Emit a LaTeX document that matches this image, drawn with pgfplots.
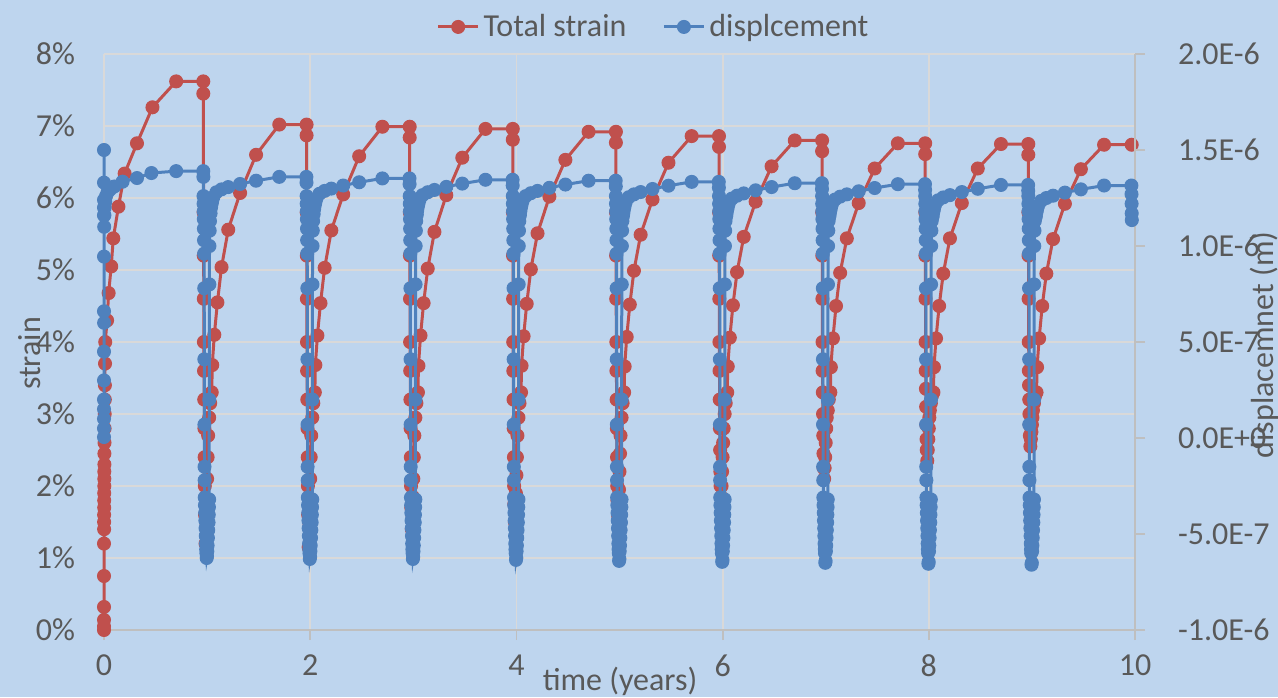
\documentclass[border=0pt]{standalone}
\usepackage{pgfplots}
\pgfplotsset{compat=1.18}
\usepackage{fontspec}
\setmainfont{Carlito}
\definecolor{bgc}{RGB}{190,213,238}
\definecolor{redc}{RGB}{192,80,77}
\definecolor{bluec}{RGB}{79,129,189}
\definecolor{gridc}{RGB}{217,217,217}
\definecolor{axisc}{RGB}{191,191,191}
\definecolor{textc}{RGB}{89,89,89}
\newcommand{\chartfont}{\fontsize{16}{19}\selectfont}
\pgfplotsset{
  base/.style={
    at={(52pt,33.5pt)}, anchor=south west, scale only axis,
    width=515.5pt, height=288pt, xmin=0, xmax=10, clip=false,
    tick label style={font=\chartfont, text=textc},
    label style={font=\chartfont, text=textc},
    /pgf/number format/assume math mode=true,
    major tick length=5pt, tick align=outside,
  },
  redline/.style={draw=redc, line width=1.5pt, mark=*, mark size=3.2pt,
    mark options={solid, fill=redc, draw=redc, line width=0.6pt}},
  blueline/.style={draw=bluec, line width=1.5pt, mark=*, mark size=3.2pt,
    mark options={solid, fill=bluec, draw=bluec, line width=0.6pt}},
}
\begin{document}
\begin{tikzpicture}
\fill[bgc] (0,0) rectangle (639pt,348.5pt);
\begin{axis}[base, ymin=0, ymax=8,
  axis x line*=bottom, axis y line*=left,
  x axis line style={draw=axisc, line width=0.9pt, -},
  y axis line style={draw=gridc, line width=0.9pt, -},
  xtick={0,2,4,6,8,10}, ytick={0,1,2,3,4,5,6,7,8},
  yticklabels={0\%,1\%,2\%,3\%,4\%,5\%,6\%,7\%,8\%},
  xtick style={draw=axisc, line width=0.9pt},
  ytick style={draw=none},
  yticklabel style={xshift=-6pt},
  xticklabel style={yshift=-4pt},
  grid=major, major grid style={draw=gridc, line width=0.9pt},
  xlabel={time (years)}, ylabel={strain},
  xlabel style={at={(axis description cs:0.5005,-0.0885)}, anchor=center},
  ylabel style={at={(axis description cs:-0.0718,0.48)}, anchor=center},
]
\addplot[redline] table {
0 0
0 0.05
0 0.14
0 0.32
0 0.75
0 1.2
0.001 1.4
0.001 1.5
0.001 1.6
0.002 1.7
0.002 1.8
0.002 1.9
0.003 2.0
0.003 2.1
0.003 2.2
0.004 2.3
0.004 2.45
0.005 2.6
0.006 2.8
0.007 3.0
0.008 3.2
0.009 3.4
0.010 3.7
0.012 4.0
0.030 4.3
0.045 4.68
0.07 5.05
0.09 5.44
0.14 5.88
0.2 6.34
0.32 6.76
0.47 7.26
0.70 7.62
0.963 7.62
0.963 7.45
0.966 5.8
0.967 5.2
0.968 4.6
0.969 4.0
0.970 3.6
0.972 3.2
0.974 2.8
0.976 2.4
0.978 2.0
0.980 1.6
0.985 1.2
0.990 1.5
0.995 1.8
1.000 2.1
1.005 2.4
1.010 2.7
1.020 2.95
1.030 3.15
1.045 3.3
1.050 3.68
1.070 4.1
1.100 4.55
1.140 5.04
1.205 5.56
1.320 6.07
1.475 6.6
1.700 7.02
1.965 7.02
1.965 6.87
1.966 5.8
1.967 5.2
1.968 4.6
1.969 4.0
1.970 3.6
1.972 3.2
1.974 2.8
1.976 2.4
1.978 2.0
1.980 1.6
1.985 1.15
1.990 1.5
1.995 1.8
2.000 2.1
2.005 2.4
2.010 2.7
2.020 2.95
2.030 3.15
2.045 3.3
2.050 3.68
2.070 4.09
2.100 4.54
2.140 5.03
2.205 5.55
2.320 6.05
2.475 6.58
2.700 6.99
2.965 6.99
2.965 6.84
2.966 5.8
2.967 5.2
2.968 4.6
2.969 4.0
2.970 3.6
2.972 3.2
2.974 2.8
2.976 2.4
2.978 2.0
2.980 1.7
2.985 1.4
2.990 1.6
2.995 1.85
3.000 2.1
3.005 2.4
3.010 2.7
3.020 2.95
3.030 3.15
3.045 3.3
3.050 3.67
3.070 4.09
3.100 4.54
3.140 5.02
3.205 5.53
3.320 6.04
3.475 6.56
3.700 6.96
3.965 6.96
3.965 6.81
3.966 5.8
3.967 5.2
3.968 4.6
3.969 4.0
3.970 3.6
3.972 3.2
3.974 2.8
3.976 2.4
3.978 2.0
3.980 1.75
3.985 1.5
3.990 1.7
3.995 1.9
4.000 2.15
4.005 2.4
4.010 2.7
4.020 2.95
4.030 3.15
4.045 3.3
4.050 3.67
4.070 4.08
4.100 4.53
4.140 5.01
4.205 5.51
4.320 6.02
4.475 6.53
4.700 6.92
4.965 6.92
4.965 6.77
4.966 5.8
4.967 5.2
4.968 4.6
4.969 4.0
4.970 3.6
4.972 3.2
4.974 2.8
4.976 2.4
4.978 2.0
4.980 1.8
4.985 1.6
4.990 1.75
4.995 1.95
5.000 2.2
5.005 2.45
5.010 2.7
5.020 2.95
5.030 3.15
5.045 3.3
5.050 3.66
5.070 4.07
5.100 4.52
5.140 4.99
5.205 5.49
5.320 5.98
5.475 6.49
5.700 6.86
5.965 6.86
5.965 6.71
5.966 5.8
5.967 5.2
5.968 4.6
5.969 4.0
5.970 3.6
5.972 3.2
5.974 2.8
5.976 2.5
5.978 2.2
5.980 2.0
5.985 1.85
5.990 2.0
5.995 2.2
6.000 2.4
6.005 2.6
6.010 2.8
6.020 3.0
6.030 3.15
6.045 3.3
6.050 3.66
6.070 4.06
6.100 4.51
6.140 4.97
6.205 5.46
6.320 5.95
6.475 6.44
6.700 6.80
6.965 6.80
6.965 6.65
6.966 5.8
6.967 5.2
6.968 4.6
6.969 4.0
6.970 3.6
6.972 3.3
6.974 3.0
6.976 2.7
6.978 2.45
6.980 2.25
6.985 2.1
6.990 2.25
6.995 2.4
7.000 2.6
7.005 2.8
7.010 2.95
7.020 3.05
7.030 3.2
7.045 3.3
7.050 3.65
7.070 4.05
7.100 4.50
7.140 4.96
7.205 5.44
7.320 5.93
7.475 6.41
7.700 6.76
7.965 6.76
7.965 6.61
7.966 5.8
7.967 5.2
7.968 4.6
7.969 4.0
7.970 3.6
7.972 3.35
7.974 3.1
7.976 2.85
7.978 2.65
7.980 2.5
7.985 2.35
7.990 2.5
7.995 2.65
8.000 2.8
8.005 2.95
8.010 3.05
8.020 3.15
8.030 3.25
8.045 3.3
8.050 3.65
8.070 4.05
8.100 4.50
8.140 4.95
8.205 5.44
8.320 5.93
8.475 6.41
8.700 6.75
8.965 6.75
8.965 6.60
8.966 5.8
8.967 5.2
8.968 4.6
8.969 4.0
8.970 3.6
8.972 3.4
8.974 3.2
8.976 3.0
8.978 2.85
8.980 2.7
8.985 2.55
8.990 2.65
8.995 2.75
9.000 2.85
9.005 2.95
9.010 3.05
9.020 3.15
9.030 3.25
9.045 3.3
9.050 3.65
9.070 4.05
9.100 4.50
9.140 4.95
9.205 5.43
9.320 5.92
9.475 6.40
9.700 6.74
9.968 6.74
};
\end{axis}
\begin{axis}[base, ymin=-1e-6, ymax=2e-6,
  axis y line*=right, axis x line=none, xtick=\empty,
  scaled y ticks=false,
  y axis line style={draw=axisc, line width=0.9pt, -},
  ytick={-1e-6,-5e-7,0,5e-7,1e-6,1.5e-6,2e-6},
  yticklabels={-1.0E-6,-5.0E-7,0.0E+0,5.0E-7,1.0E-6,1.5E-6,2.0E-6},
  ytick style={draw=axisc, line width=0.9pt},
  yticklabel style={xshift=13pt},
  ylabel={displacemnet (m)},
  ylabel style={at={(axis description cs:1.125,0.495)}, anchor=center},
  legend columns=2,
  legend style={at={(0.534,1.047)}, anchor=center, draw=none, fill=none,
    font=\chartfont, text=textc,
    /tikz/every even column/.append style={column sep=16pt}},
  legend image code/.code={\draw[mark repeat=2,mark phase=2,#1] plot coordinates {(0pt,0pt) (10pt,0pt) (20pt,0pt)};},
  legend entries={Total strain, displcement},
]
\addlegendimage{redline}
\addplot[blueline] table {
0 15.0e-7
0 13.3e-7
0 12.4e-7
0 12.0e-7
0 11.6e-7
0 9.45e-7
0 6.6e-7
0 4.5e-7
0 3.0e-7
0 2.0e-7
0 1.5e-7
0 1.0e-7
0 0.5e-7
0 0.05e-7
0.001 6.0e-7
0.002 11.0e-7
0.004 11.6e-7
0.007 12.0e-7
0.012 12.3e-7
0.020 12.6e-7
0.035 12.8e-7
0.060 12.95e-7
0.100 13.1e-7
0.180 13.35e-7
0.320 13.54e-7
0.460 13.8e-7
0.700 13.9e-7
0.963 13.9e-7
0.964 13.6e-7
0.965 12.6e-7
0.966 12.2e-7
0.967 11.8e-7
0.968 11.4e-7
0.969 10.9e-7
0.970 10.3e-7
0.971 9.6e-7
0.972 7.8e-7
0.973 4.1e-7
0.974 0.7e-7
0.975 -1.5e-7
0.976 -2.2e-7
0.977 -3.1e-7
0.979 -3.5e-7
0.981 -3.9e-7
0.983 -4.3e-7
0.985 -4.7e-7
0.987 -5.1e-7
0.989 -5.5e-7
0.991 -5.8e-7
0.993 -6.0e-7
0.996 -6.25e-7
0.999 -6.15e-7
1.002 -5.9e-7
1.005 -5.6e-7
1.008 -5.2e-7
1.011 -4.8e-7
1.014 -4.4e-7
1.016 -4.0e-7
1.018 -3.6e-7
1.020 -3.2e-7
1.021 2.0e-7
1.022 8.0e-7
1.023 10.0e-7
1.025 10.8e-7
1.028 11.3e-7
1.034 11.7e-7
1.038 12.0e-7
1.044 12.2e-7
1.050 12.35e-7
1.060 12.55e-7
1.090 12.8e-7
1.140 12.95e-7
1.205 13.07e-7
1.320 13.23e-7
1.475 13.4e-7
1.700 13.6e-7
1.963 13.6e-7
1.964 13.3e-7
1.965 12.6e-7
1.966 12.2e-7
1.967 11.8e-7
1.968 11.4e-7
1.969 10.9e-7
1.970 10.3e-7
1.971 9.6e-7
1.972 7.8e-7
1.973 4.1e-7
1.974 0.7e-7
1.975 -1.5e-7
1.976 -2.2e-7
1.977 -3.1e-7
1.979 -3.5e-7
1.981 -3.9e-7
1.983 -4.3e-7
1.985 -4.7e-7
1.987 -5.1e-7
1.989 -5.5e-7
1.991 -5.8e-7
1.993 -6.0e-7
1.996 -6.3e-7
1.999 -6.2e-7
2.002 -5.9e-7
2.005 -5.6e-7
2.008 -5.2e-7
2.011 -4.8e-7
2.014 -4.4e-7
2.016 -4.0e-7
2.018 -3.6e-7
2.020 -3.2e-7
2.021 2.0e-7
2.022 8.0e-7
2.023 10.0e-7
2.025 10.8e-7
2.028 11.3e-7
2.034 11.66e-7
2.038 11.92e-7
2.044 12.12e-7
2.050 12.27e-7
2.060 12.47e-7
2.090 12.72e-7
2.140 12.87e-7
2.205 12.99e-7
2.320 13.15e-7
2.475 13.32e-7
2.700 13.52e-7
2.963 13.52e-7
2.964 13.22e-7
2.965 12.6e-7
2.966 12.2e-7
2.967 11.8e-7
2.968 11.4e-7
2.969 10.9e-7
2.970 10.3e-7
2.971 9.6e-7
2.972 7.8e-7
2.973 4.1e-7
2.974 0.7e-7
2.975 -1.5e-7
2.976 -2.2e-7
2.977 -3.1e-7
2.979 -3.5e-7
2.981 -3.9e-7
2.983 -4.3e-7
2.985 -4.7e-7
2.987 -5.1e-7
2.989 -5.5e-7
2.991 -5.8e-7
2.993 -6.0e-7
2.996 -6.3e-7
2.999 -6.2e-7
3.002 -5.9e-7
3.005 -5.6e-7
3.008 -5.2e-7
3.011 -4.8e-7
3.014 -4.4e-7
3.016 -4.0e-7
3.018 -3.6e-7
3.020 -3.2e-7
3.021 2.0e-7
3.022 8.0e-7
3.023 10.0e-7
3.025 10.8e-7
3.028 11.3e-7
3.034 11.63e-7
3.038 11.85e-7
3.044 12.05e-7
3.050 12.2e-7
3.060 12.4e-7
3.090 12.65e-7
3.140 12.8e-7
3.205 12.92e-7
3.320 13.08e-7
3.475 13.25e-7
3.700 13.45e-7
3.963 13.45e-7
3.964 13.15e-7
3.965 12.6e-7
3.966 12.2e-7
3.967 11.8e-7
3.968 11.4e-7
3.969 10.9e-7
3.970 10.3e-7
3.971 9.6e-7
3.972 7.8e-7
3.973 4.1e-7
3.974 0.7e-7
3.975 -1.5e-7
3.976 -2.2e-7
3.977 -3.1e-7
3.979 -3.5e-7
3.981 -3.9e-7
3.983 -4.3e-7
3.985 -4.7e-7
3.987 -5.1e-7
3.989 -5.5e-7
3.991 -5.8e-7
3.993 -6.0e-7
3.996 -6.35e-7
3.999 -6.25e-7
4.002 -5.9e-7
4.005 -5.6e-7
4.008 -5.2e-7
4.011 -4.8e-7
4.014 -4.4e-7
4.016 -4.0e-7
4.018 -3.6e-7
4.020 -3.2e-7
4.021 2.0e-7
4.022 8.0e-7
4.023 10.0e-7
4.025 10.8e-7
4.028 11.3e-7
4.034 11.6e-7
4.038 11.8e-7
4.044 12.0e-7
4.050 12.15e-7
4.060 12.35e-7
4.090 12.6e-7
4.140 12.75e-7
4.205 12.87e-7
4.320 13.03e-7
4.475 13.2e-7
4.700 13.4e-7
4.963 13.4e-7
4.964 13.1e-7
4.965 12.6e-7
4.966 12.2e-7
4.967 11.8e-7
4.968 11.4e-7
4.969 10.9e-7
4.970 10.3e-7
4.971 9.6e-7
4.972 7.8e-7
4.973 4.1e-7
4.974 0.7e-7
4.975 -1.5e-7
4.976 -2.2e-7
4.977 -3.1e-7
4.979 -3.5e-7
4.981 -3.9e-7
4.983 -4.3e-7
4.985 -4.7e-7
4.987 -5.1e-7
4.989 -5.5e-7
4.991 -5.8e-7
4.993 -6.0e-7
4.996 -6.4e-7
4.999 -6.3e-7
5.002 -5.9e-7
5.005 -5.6e-7
5.008 -5.2e-7
5.011 -4.8e-7
5.014 -4.4e-7
5.016 -4.0e-7
5.018 -3.6e-7
5.020 -3.2e-7
5.021 2.0e-7
5.022 8.0e-7
5.023 10.0e-7
5.025 10.8e-7
5.028 11.3e-7
5.034 11.57e-7
5.038 11.74e-7
5.044 11.94e-7
5.050 12.09e-7
5.060 12.29e-7
5.090 12.54e-7
5.140 12.69e-7
5.205 12.81e-7
5.320 12.97e-7
5.475 13.14e-7
5.700 13.34e-7
5.963 13.34e-7
5.964 13.04e-7
5.965 12.6e-7
5.966 12.2e-7
5.967 11.8e-7
5.968 11.4e-7
5.969 10.9e-7
5.970 10.3e-7
5.971 9.6e-7
5.972 7.8e-7
5.973 4.1e-7
5.974 0.7e-7
5.975 -1.5e-7
5.976 -2.2e-7
5.977 -3.1e-7
5.979 -3.5e-7
5.981 -3.9e-7
5.983 -4.3e-7
5.985 -4.7e-7
5.987 -5.1e-7
5.989 -5.5e-7
5.991 -5.8e-7
5.993 -6.0e-7
5.996 -6.45e-7
5.999 -6.35e-7
6.002 -5.9e-7
6.005 -5.6e-7
6.008 -5.2e-7
6.011 -4.8e-7
6.014 -4.4e-7
6.016 -4.0e-7
6.018 -3.6e-7
6.020 -3.2e-7
6.021 2.0e-7
6.022 8.0e-7
6.023 10.0e-7
6.025 10.8e-7
6.028 11.3e-7
6.034 11.54e-7
6.038 11.67e-7
6.044 11.87e-7
6.050 12.02e-7
6.060 12.22e-7
6.090 12.47e-7
6.140 12.62e-7
6.205 12.74e-7
6.320 12.9e-7
6.475 13.07e-7
6.700 13.27e-7
6.963 13.27e-7
6.964 12.97e-7
6.965 12.6e-7
6.966 12.2e-7
6.967 11.8e-7
6.968 11.4e-7
6.969 10.9e-7
6.970 10.3e-7
6.971 9.6e-7
6.972 7.8e-7
6.973 4.1e-7
6.974 0.7e-7
6.975 -1.5e-7
6.976 -2.2e-7
6.977 -3.1e-7
6.979 -3.5e-7
6.981 -3.9e-7
6.983 -4.3e-7
6.985 -4.7e-7
6.987 -5.1e-7
6.989 -5.5e-7
6.991 -5.8e-7
6.993 -6.0e-7
6.996 -6.5e-7
6.999 -6.4e-7
7.002 -5.9e-7
7.005 -5.6e-7
7.008 -5.2e-7
7.011 -4.8e-7
7.014 -4.4e-7
7.016 -4.0e-7
7.018 -3.6e-7
7.020 -3.2e-7
7.021 2.0e-7
7.022 8.0e-7
7.023 10.0e-7
7.025 10.8e-7
7.028 11.3e-7
7.034 11.51e-7
7.038 11.62e-7
7.044 11.82e-7
7.050 11.97e-7
7.060 12.17e-7
7.090 12.42e-7
7.140 12.57e-7
7.205 12.69e-7
7.320 12.85e-7
7.475 13.02e-7
7.700 13.22e-7
7.963 13.22e-7
7.964 12.92e-7
7.965 12.6e-7
7.966 12.2e-7
7.967 11.8e-7
7.968 11.4e-7
7.969 10.9e-7
7.970 10.3e-7
7.971 9.6e-7
7.972 7.8e-7
7.973 4.1e-7
7.974 0.7e-7
7.975 -1.5e-7
7.976 -2.2e-7
7.977 -3.1e-7
7.979 -3.5e-7
7.981 -3.9e-7
7.983 -4.3e-7
7.985 -4.7e-7
7.987 -5.1e-7
7.989 -5.5e-7
7.991 -5.8e-7
7.993 -6.0e-7
7.996 -6.55e-7
7.999 -6.45e-7
8.002 -5.9e-7
8.005 -5.6e-7
8.008 -5.2e-7
8.011 -4.8e-7
8.014 -4.4e-7
8.016 -4.0e-7
8.018 -3.6e-7
8.020 -3.2e-7
8.021 2.0e-7
8.022 8.0e-7
8.023 10.0e-7
8.025 10.8e-7
8.028 11.3e-7
8.034 11.49e-7
8.038 11.58e-7
8.044 11.78e-7
8.050 11.93e-7
8.060 12.13e-7
8.090 12.38e-7
8.140 12.53e-7
8.205 12.65e-7
8.320 12.81e-7
8.475 12.98e-7
8.700 13.18e-7
8.963 13.18e-7
8.964 12.88e-7
8.965 12.6e-7
8.966 12.2e-7
8.967 11.8e-7
8.968 11.4e-7
8.969 10.9e-7
8.970 10.3e-7
8.971 9.6e-7
8.972 7.8e-7
8.973 4.1e-7
8.974 0.7e-7
8.975 -1.5e-7
8.976 -2.2e-7
8.977 -3.1e-7
8.979 -3.5e-7
8.981 -3.9e-7
8.983 -4.3e-7
8.985 -4.7e-7
8.987 -5.1e-7
8.989 -5.5e-7
8.991 -5.8e-7
8.993 -6.0e-7
8.996 -6.6e-7
8.999 -6.5e-7
9.002 -5.9e-7
9.005 -5.6e-7
9.008 -5.2e-7
9.011 -4.8e-7
9.014 -4.4e-7
9.016 -4.0e-7
9.018 -3.6e-7
9.020 -3.2e-7
9.021 2.0e-7
9.022 8.0e-7
9.023 10.0e-7
9.025 10.8e-7
9.028 11.3e-7
9.034 11.48e-7
9.038 11.55e-7
9.044 11.75e-7
9.050 11.9e-7
9.060 12.1e-7
9.090 12.35e-7
9.140 12.5e-7
9.205 12.62e-7
9.320 12.78e-7
9.475 12.95e-7
9.700 13.15e-7
9.965 13.15e-7
9.966 12.7e-7
9.967 12.2e-7
9.968 11.7e-7
9.969 11.35e-7
};
\end{axis}
\pgfresetboundingbox
\useasboundingbox (0,0) rectangle (639pt,348.5pt);
\end{tikzpicture}
\end{document}
